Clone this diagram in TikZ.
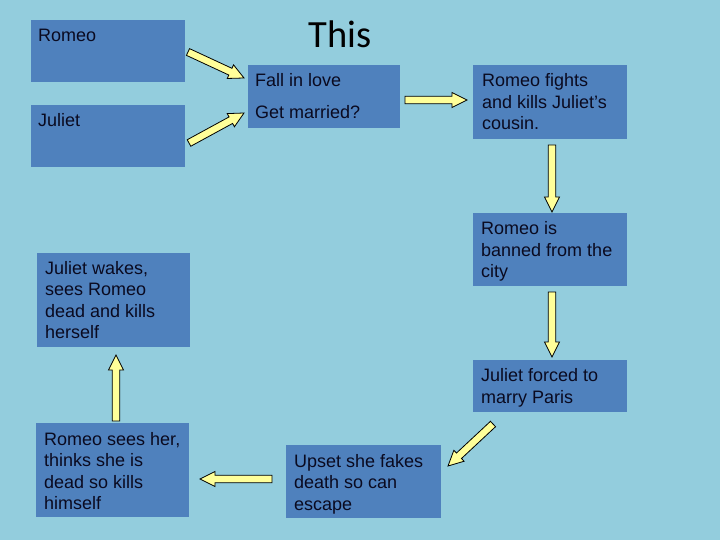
\documentclass[tikz,border=0pt]{standalone}
\usepackage{fontspec}
\setmainfont{Liberation Sans}
\newfontfamily\titlefont{Carlito}
\usetikzlibrary{calc}
\definecolor{bg}{HTML}{93CDDD}
\definecolor{boxc}{HTML}{4F81BD}
\definecolor{arrowc}{HTML}{FFFF99}
\definecolor{txt}{HTML}{0A0A20}
\newcommand\fstrut{\rule{0pt}{13.8pt}}
\newcommand\blockarrow[2]{%
  \coordinate (ba-h) at ($(#2)!15pt!(#1)$);
  \draw[barrow] ($(#1)!3.7pt!90:(#2)$) -- ($(ba-h)!3.7pt!90:(#2)$)
    -- ($(ba-h)!7.5pt!90:(#2)$) -- (#2) -- ($(ba-h)!7.5pt!-90:(#2)$)
    -- ($(ba-h)!3.7pt!-90:(#2)$) -- ($(#1)!3.7pt!-90:(#2)$) -- cycle;
}
\tikzset{
  boxnode/.style={fill=boxc, draw=none, inner sep=0pt, anchor=north west},
  lbl/.style={inner sep=0pt, anchor=north west, align=left, text=txt,
    font=\fontsize{18}{21.5}\selectfont},
  barrow/.style={fill=arrowc, draw=black, line width=0.8pt, line join=miter},
}
\begin{document}
\begin{tikzpicture}[x=1pt, y=-1pt]
\useasboundingbox (0,0) rectangle (720,540);
\fill[bg] (0,0) rectangle (720,540);

% boxes
\node[boxnode, minimum width=154pt, minimum height=62pt] (romeo) at (31,20) {};
\node[boxnode, minimum width=154pt, minimum height=62pt] (juliet) at (31,105) {};
\node[boxnode, minimum width=152pt, minimum height=63pt] (love) at (248,65) {};
\node[boxnode, minimum width=154pt, minimum height=74pt] (fights) at (473,65) {};
\node[boxnode, minimum width=154pt, minimum height=73pt] (banned) at (473,213) {};
\node[boxnode, minimum width=154pt, minimum height=52pt] (forced) at (473,360) {};
\node[boxnode, minimum width=155pt, minimum height=73pt] (upset) at (286,445) {};
\node[boxnode, minimum width=153pt, minimum height=94pt] (sees) at (36,423) {};
\node[boxnode, minimum width=153pt, minimum height=94pt] (wakes) at (37,253) {};

% texts
\node[lbl] (romeo-t) at ([shift={(7pt,-8pt)}]romeo.north west) {\fstrut Romeo};
\node[lbl] (juliet-t) at ([shift={(7pt,-8pt)}]juliet.north west) {\fstrut Juliet};
\node[lbl] (love-t) at ([shift={(7pt,-7.5pt)}]love.north west) {\fstrut Fall in love\\[10.5pt]Get married?};
\node[lbl] (fights-t) at ([shift={(9pt,-8pt)}]fights.north west) {\fstrut Romeo fights\\and kills Juliet’s\\cousin.};
\node[lbl] (banned-t) at ([shift={(8pt,-7.5pt)}]banned.north west) {\fstrut Romeo is\\banned from the\\city};
\node[lbl] (forced-t) at ([shift={(8pt,-7.5pt)}]forced.north west) {\fstrut Juliet forced to\\marry Paris};
\node[lbl] (upset-t) at ([shift={(8pt,-8pt)}]upset.north west) {\fstrut Upset she fakes\\death so can\\escape};
\node[lbl] (sees-t) at ([shift={(8pt,-8pt)}]sees.north west) {\fstrut Romeo sees her,\\thinks she is\\dead so kills\\himself};
\node[lbl] (wakes-t) at ([shift={(8pt,-7pt)}]wakes.north west) {\fstrut Juliet wakes,\\sees Romeo\\dead and kills\\herself};

\node[anchor=base, inner sep=0pt, text=black, font=\titlefont\fontsize{38.5}{40}\selectfont] (title) at (340,48) {This};

% arrow end points
\coordinate (a1s) at (188,52);  \coordinate (a1e) at (244,78);
\coordinate (a2s) at (189,143); \coordinate (a2e) at (244,113);
\coordinate (a3s) at (405,100); \coordinate (a3e) at (467,100);
\coordinate (a4s) at (552,145); \coordinate (a4e) at (552,212);
\coordinate (a5s) at (552,292); \coordinate (a5e) at (552,357);
\coordinate (a6s) at (493,424); \coordinate (a6e) at (448,466);
\coordinate (a7s) at (272,479); \coordinate (a7e) at (200,479);
\coordinate (a8s) at (116,421); \coordinate (a8e) at (116,355);

\blockarrow{a1s}{a1e}
\blockarrow{a2s}{a2e}
\blockarrow{a3s}{a3e}
\blockarrow{a4s}{a4e}
\blockarrow{a5s}{a5e}
\blockarrow{a6s}{a6e}
\blockarrow{a7s}{a7e}
\blockarrow{a8s}{a8e}
\end{tikzpicture}
\end{document}
